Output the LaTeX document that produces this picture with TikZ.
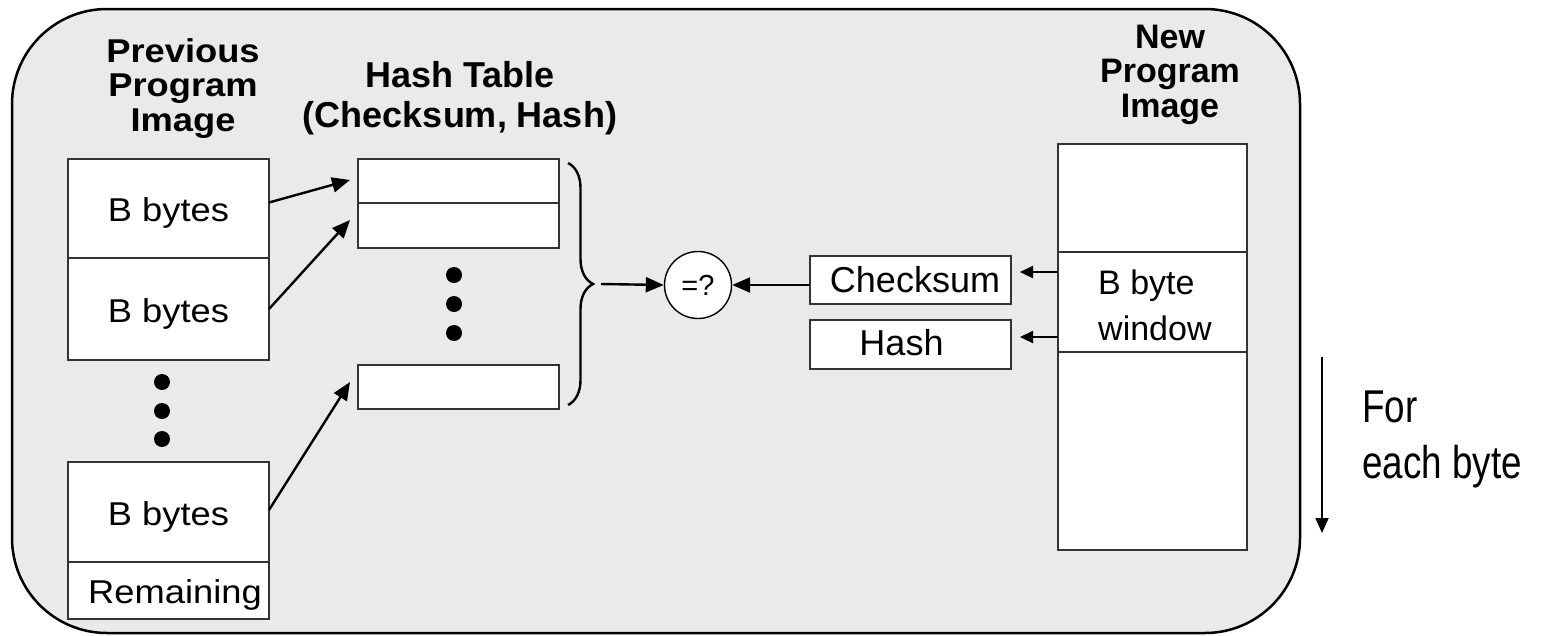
\documentclass[tikz,border=0pt]{standalone}
\usepackage{fontspec}
\setmainfont{Liberation Sans}
\newfontfamily\leftgroupfont[FakeStretch=1.1]{Liberation Sans}
\newfontfamily\narrowfont[FakeStretch=0.8]{Liberation Sans}
\usetikzlibrary{arrows.meta,decorations.pathreplacing}
\definecolor{panelgray}{RGB}{234,234,234}

\begin{document}
\begin{tikzpicture}[x=1pt,y=-1pt,
  panel/.style={draw=black, line width=2.5pt, fill=panelgray, rounded corners=95pt},
  cell/.style={draw=black!80, line width=1.6pt, fill=white, rectangle, inner sep=0pt, outer sep=0pt},
  leftcell/.style={cell, minimum width=201pt, font=\leftgroupfont\fontsize{33}{36}\selectfont, text height=26pt, text depth=0pt},
  hashcell/.style={cell, minimum width=201pt},
  newcell/.style={cell, minimum width=189pt},
  sumcell/.style={cell, minimum width=201pt, font=\fontsize{36}{40}\selectfont, text depth=0pt},
  title/.style={font=\bfseries\fontsize{36}{40}\selectfont, align=center, inner sep=0pt, anchor=base},
  bulletdot/.style={circle, fill=black, inner sep=0pt, minimum size=16pt},
  bigarrow/.style={line width=2.4pt, -{Triangle[length=18pt,width=15pt]}},
  smallarrow/.style={line width=2.4pt, -{Triangle[length=13pt,width=12pt]}},
]
\useasboundingbox (0,0) rectangle (1554,635);

% surrounding panel
\draw[panel] (12,9) rectangle (1300,633);

% previous program image (base anchor sits on the last line)
\node[title, font=\leftgroupfont\bfseries\fontsize{33}{34.5}\selectfont] (prevtitle) at (183,131) {Previous\\Program\\Image};
\node[leftcell, minimum height=99pt]  (pb1) at (168.5,208.5) {B bytes};
\node[leftcell, minimum height=102pt] (pb2) at (168.5,309) {B bytes};
\node[bulletdot] (pd1) at (162,382) {};
\node[bulletdot] (pd2) at (162,411) {};
\node[bulletdot] (pd3) at (162,439) {};
\node[leftcell, minimum height=100pt] (pb3) at (168.5,512) {B bytes};
\node[leftcell, minimum height=57pt]  (rem) at (168.5,590.5) {\hspace*{13pt}Remaining};

% hash table
\node[title] (hashtitle) at (460,127) {Hash Table\\(Checksum, Hash)};
\node[hashcell, minimum height=44pt] (hb1) at (458.5,181) {};
\node[hashcell, minimum height=45pt] (hb2) at (458.5,225.5) {};
\node[bulletdot] (hd1) at (454,275) {};
\node[bulletdot] (hd2) at (454,304) {};
\node[bulletdot] (hd3) at (454,333) {};
\node[hashcell, minimum height=44pt] (hb3) at (458.5,387) {};

% brace over the table
\coordinate (bracetop) at (568,163);
\coordinate (bracebot) at (568,405);
\coordinate (bracetip) at (601,284);
\draw[line width=2.4pt, decorate, decoration={brace, amplitude=25pt}] (bracetop) -- (bracebot);

% comparison
\node[circle, draw=black, line width=1.4pt, fill=white, minimum size=67pt, inner sep=0pt, font=\fontsize{29}{30}\selectfont] (eq) at (698,285) {=?};

% checksum and hash of the window
\node[sumcell, minimum height=48pt, text height=24pt] (ck) at (910.5,280) {\hspace*{9pt}Checksum};
\node[sumcell, minimum height=49pt, text height=21pt] (hs) at (910.5,344.5) {Hash\hspace*{18pt}};

% new program image
\node[title, font=\bfseries\fontsize{34}{34.5}\selectfont] (newtitle) at (1170,117) {New\\Program\\Image};
\node[newcell, minimum height=108pt] (nb1) at (1152.5,198) {};
\node[newcell, minimum height=100pt] (win) at (1152.5,302) {};
\node[newcell, minimum height=198pt] (nb3) at (1152.5,451) {};
\node[anchor=base west, align=left, inner sep=0pt, font=\fontsize{34}{46}\selectfont] (wintext) at (1098,340) {B byte\\window};

% scanning direction
\coordinate (scantop) at (1322,357);
\coordinate (scanbot) at (1322,533);
\draw[line width=1.8pt, -{Triangle[length=15pt,width=13pt]}] (scantop) -- (scanbot);
\node[anchor=base west, align=left, inner sep=0pt, font=\narrowfont\fontsize{46}{56}\selectfont] (scanlabel) at (1362,478) {For\\each byte};

% connectors
\draw[bigarrow] ([yshift=6pt]pb1.east) -- ([xshift=-8pt,yshift=1pt]hb1.west);
\draw[bigarrow] (pb2.east) -- ([xshift=-8pt,yshift=5.5pt]hb2.west);
\draw[bigarrow] ([yshift=2pt]pb3.east) -- ([xshift=-8pt,yshift=5pt]hb3.west);
\draw[bigarrow] (bracetip) -- (eq.west);
\draw[bigarrow] (ck.west |- eq.center) -- (eq.east);
\draw[smallarrow, shorten >=9pt] ([yshift=-20pt]win.north west) -- ([yshift=-20pt]win.north west -| ck.east);
\draw[smallarrow, shorten >=9pt] ([yshift=-85pt]win.north west) -- ([yshift=-85pt]win.north west -| hs.east);
\end{tikzpicture}
\end{document}
